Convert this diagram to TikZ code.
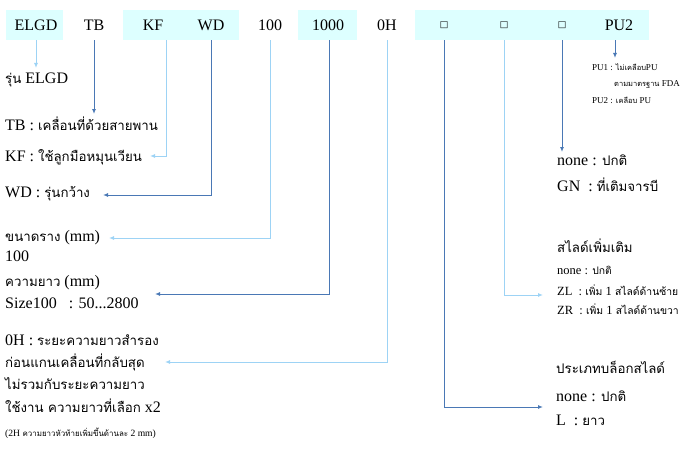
\documentclass[tikz,border=0pt]{standalone}
\usepackage{fontspec}
\setmainfont{Liberation Serif}
\newfontfamily\thai[Script=Thai,Scale=0.83]{Loma}
\newfontfamily\symb{DejaVu Sans}
\usetikzlibrary{arrows.meta}

\definecolor{hdrbg}{HTML}{DDFFFF}
\definecolor{litecol}{HTML}{9DD3F5}
\definecolor{darkcol}{HTML}{4A78B5}

\tikzset{
  hdr/.style={inner sep=0pt, minimum height=30pt, font=\fontsize{16}{18}\selectfont},
  txt/.style={anchor=west, inner sep=0pt, font=\fontsize{16}{18}\selectfont},
  small/.style={txt, font=\fontsize{12.5}{14}\selectfont},
  tiny/.style={txt, font=\fontsize{9}{10}\selectfont},
  lite/.style={litecol, line width=1pt, -{Latex[length=5pt,width=4pt]}},
  dark/.style={darkcol, line width=1pt, -{Latex[length=5pt,width=4pt]}},
}

\begin{document}
\begin{tikzpicture}[x=1pt,y=-1pt]
    \useasboundingbox (0,0) rectangle (688,452);

    % header background
    \fill[hdrbg] (6,10) rectangle (63,40);
    \fill[hdrbg] (123,10) rectangle (239,40);
    \fill[hdrbg] (298,10) rectangle (357,40);
    \fill[hdrbg] (415,10) rectangle (649,40);

    % header codes
    \node[hdr] (elgd) at (36,25) {ELGD};
    \node[hdr] (tb) at (94,25) {TB};
    \node[hdr] (kf) at (153,25) {KF};
    \node[hdr] (wd) at (211,25) {WD};
    \node[hdr] (rail) at (270,25) {100};
    \node[hdr] (len) at (328,25) {1000};
    \node[hdr] (oh) at (387,25) {0H};
    \node[hdr] (sqa) at (444,25) {\symb\fontsize{9}{9}\selectfont □};
    \node[hdr] (sqb) at (504,25) {\symb\fontsize{9}{9}\selectfont □};
    \node[hdr] (sqc) at (562,25) {\symb\fontsize{9}{9}\selectfont □};
    \node[hdr] (pu) at (619,25) {PU2};

    % left descriptions
    \node[txt] (elgdtxt) at (5,80) {{\thai รุ่น} ELGD};
    \node[txt] (tbtxt) at (5,124) {TB : {\thai เคลื่อนที่ด้วยสายพาน}};
    \node[txt] (kftxt) at (5,157) {KF : {\thai ใช้ลูกมือหมุนเวียน}};
    \node[txt] (wdtxt) at (5,194) {WD : {\thai รุ่นกว้าง}};
    \node[txt] (railtxt) at (5,238) {{\thai ขนาดราง} (mm)};
    \node[txt] (railval) at (5,256) {100};
    \node[txt] (lentxt) at (5,283) {{\thai ความยาว} (mm)};
    \node[txt] (lenval) at (5,303) {Size100\ \ \ : 50...2800};
    \node[txt] (oha) at (5,340) {0H : {\thai ระยะความยาวสำรอง}};
    \node[txt] (ohb) at (5,362) {\thai ก่อนแกนเคลื่อนที่กลับสุด};
    \node[txt] (ohc) at (5,384) {\thai ไม่รวมกับระยะความยาว};
    \node[txt] (ohd) at (5,406) {{\thai ใช้งาน ความยาวที่เลือก} x2};
    \node[txt, font=\fontsize{9.6}{11}\selectfont] (ohnote) at (5,433) {(2H {\thai ความยาวหัวท้ายเพิ่มขึ้นด้านละ} 2 mm)};

    % right descriptions
    \node[tiny] (pua) at (592,67) {PU1 : {\thai ไม่เคลือบ}PU};
    \node[tiny] (pub) at (614,84) {{\thai ตามมาตรฐาน} FDA};
    \node[tiny] (puc) at (592,100) {PU2 : {\thai เคลือบ} PU};
    \node[txt] (gnnone) at (557,160) {none : {\thai ปกติ}};
    \node[txt] (gntxt) at (557,185) {GN\ \ : {\thai ที่เติมจารบี}};
    \node[txt] (sltitle) at (557,246) {\thai สไลด์เพิ่มเติม};
    \node[small] (slnone) at (557,270) {none : {\thai ปกติ}};
    \node[small] (zl) at (557,290) {ZL\ \ : {\thai เพิ่ม} 1 {\thai สไลด์ด้านซ้าย}};
    \node[small] (zr) at (557,309) {ZR\ \ : {\thai เพิ่ม} 1 {\thai สไลด์ด้านขวา}};
    \node[txt] (bltitle) at (556,367) {\thai ประเภทบล็อกสไลด์};
    \node[txt] (blnone) at (556,396) {none : {\thai ปกติ}};
    \node[txt] (bll) at (556,420) {L\ \ : {\thai ยาว}};

    % arrow ends
    \coordinate (kfend) at (150,156);
    \coordinate (wdend) at (103,195);
    \coordinate (railend) at (109,238);
    \coordinate (lenend) at (155,294);
    \coordinate (ohend) at (165,362);
    \coordinate (slend) at (543,295);
    \coordinate (blend) at (543,407);

    % connectors
    \draw[lite] (elgd.south) -- (36,68);
    \draw[dark] (tb.south) -- (94,114);
    \draw[lite] ([xshift=13pt]kf.south) |- (kfend);
    \draw[dark] (wd.south) |- (wdend);
    \draw[lite] (rail.south) |- (railend);
    \draw[dark] ([xshift=1pt]len.south) |- (lenend);
    \draw[lite] (oh.south) |- (ohend);
    \draw[dark] (sqa.south) |- (blend);
    \draw[lite] (sqb.south) |- (slend);
    \draw[dark] (sqc.south) -- (562,152);
    \draw[dark] ([xshift=-4pt]pu.south) -- (615,58);
\end{tikzpicture}
\end{document}
